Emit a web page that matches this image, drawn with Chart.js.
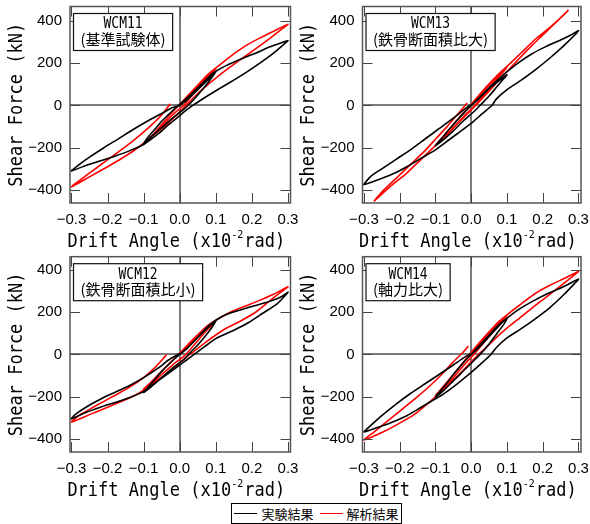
<!DOCTYPE html>
<html><head><meta charset="utf-8">
<script src="https://cdn.jsdelivr.net/npm/chart.js@4.4.0/dist/chart.umd.min.js"></script>
<style>
html,body{margin:0;padding:0;background:#fff;}
#wrap{position:relative;width:590px;height:524px;overflow:hidden;background:#fff;}
#wrap canvas{position:absolute;left:0;top:0;}
#legend{position:absolute;left:231px;top:503px;width:169px;height:19px;border:1px solid #000;background:#fff;display:flex;align-items:center;justify-content:center;font-family:"Noto Sans CJK JP";font-size:13px;color:#000;white-space:nowrap;}
.ln{display:inline-block;width:23px;height:1.5px;margin:0 4px 0 0;vertical-align:middle;}
.lnk{background:#000;}
.lnr{background:#ff0000;margin-left:6px;}
</style></head><body>
<div id="wrap">
<canvas id="c0" width="590" height="524"></canvas>
<canvas id="c1" width="590" height="524"></canvas>
<canvas id="c2" width="590" height="524"></canvas>
<canvas id="c3" width="590" height="524"></canvas>
<div id="legend"><span class="ln lnk"></span><span id="lg0"></span><span class="ln lnr"></span><span id="lg1"></span></div>
</div>
<script>
// ---------------- data ----------------
const specimenNames = ['WCM11', 'WCM13', 'WCM12', 'WCM14'];
const specimenNotes = ['(基準試験体)', '(鉄骨断面積比大)', '(鉄骨断面積比小)', '(軸力比大)'];
const seriesNames = ['実験結果', '解析結果'];
const xTickValues = [-0.3, -0.2, -0.1, 0, 0.1, 0.2, 0.3];
const yTickValues = [-400, -200, 0, 200, 400];
const xAxisTitle = ['Drift Angle (x10', '-2', 'rad)'];
const yAxisTitle = 'Shear Force (kN)';

// WCM11
const wcm11ExpDrift = [0,0.02,0.05,0.08,0.1, 0.09,0.07,0.05,0.03,0.01,-0.02,-0.05,-0.08,-0.1, -0.09,-0.07,-0.05,-0.02,0,0.03,0.06,0.08,0.1, 0.13,0.17,0.21,0.25,0.28,0.3, 0.29,0.26,0.22,0.18,0.14,0.1,0.07,0.04,0.02,0,-0.03,-0.06,-0.1, -0.14,-0.18,-0.22,-0.26,-0.3, -0.28,-0.25,-0.21,-0.17,-0.13,-0.09,-0.05,-0.02,0];
const wcm11ExpShear = [0,25,75,125,160, 135,90,50,12,-20,-60,-105,-150,-182, -155,-115,-75,-25,5,50,100,135,162, 190,220,248,278,296,308, 292,248,198,152,110,70,38,5,-20,-48,-90,-135,-185, -215,-240,-262,-284,-310, -282,-245,-200,-158,-115,-75,-38,-10,0];
const wcm11AnaDrift = [0,0.02,0.05,0.08,0.1, 0.09,0.07,0.05,0.03,0.01,-0.02,-0.05,-0.08,-0.1, -0.09,-0.07,-0.05,-0.03,0,0.03,0.06,0.08,0.1, 0.14,0.18,0.22,0.26,0.3, 0.28,0.25,0.21,0.17,0.13,0.1,0.07,0.04,0.02,0,-0.04,-0.08,-0.12,-0.16,-0.2,-0.25,-0.3, -0.27,-0.23,-0.19,-0.15,-0.11,-0.08,-0.05,-0.026];
const wcm11AnaShear = [0,35,92,145,175, 155,118,80,40,0,-45,-100,-150,-183, -165,-130,-90,-50,5,60,115,150,178, 232,280,318,352,385, 358,318,268,220,170,130,88,40,5,-30,-95,-150,-205,-250,-290,-338,-385, -345,-295,-245,-195,-140,-95,-45,8];

// WCM13
const wcm13ExpDrift = [0,0.02,0.05,0.08,0.1, 0.09,0.07,0.05,0.03,0.01,-0.02,-0.05,-0.08,-0.1, -0.09,-0.07,-0.05,-0.02,0,0.03,0.06,0.08,0.1, 0.13,0.17,0.21,0.25,0.28,0.3, 0.29,0.26,0.22,0.18,0.14,0.1,0.07,0.058,0.03,0,-0.04,-0.08,-0.1, -0.14,-0.18,-0.22,-0.26,-0.3, -0.28,-0.25,-0.21,-0.17,-0.13,-0.09,-0.05,-0.02,0];
const wcm13ExpShear = [0,30,80,120,145, 125,85,45,10,-25,-70,-120,-165,-190, -170,-130,-90,-35,0,50,100,130,160, 200,245,280,310,335,355, 335,285,225,170,120,75,30,0,-40,-85,-135,-185,-210, -250,-290,-325,-352,-375, -335,-300,-255,-210,-160,-110,-60,-20,5];
const wcm13AnaDrift = [0,0.02,0.05,0.08,0.1, 0.09,0.07,0.05,0.03,0.01,-0.02,-0.05,-0.08,-0.1, -0.09,-0.07,-0.05,-0.03,0,0.03,0.06,0.08,0.1, 0.14,0.18,0.22,0.25,0.272, 0.25,0.21,0.17,0.13,0.1,0.07,0.04,0.01,-0.02,-0.06,-0.1,-0.14,-0.18,-0.22,-0.25,-0.271, -0.25,-0.21,-0.17,-0.13,-0.1,-0.07,-0.04,-0.011];
const wcm13AnaShear = [0,40,95,150,182, 160,120,80,40,0,-50,-105,-160,-190, -170,-130,-90,-50,5,65,120,155,185, 250,315,370,415,452, 415,350,285,215,160,105,50,-5,-55,-125,-190,-255,-320,-375,-420,-452, -410,-345,-280,-215,-160,-105,-45,12];

// WCM12
const wcm12ExpDrift = [0,0.02,0.05,0.08,0.1, 0.09,0.07,0.05,0.03,0.01,-0.02,-0.05,-0.08,-0.1, -0.09,-0.07,-0.05,-0.02,0,0.03,0.06,0.08,0.1, 0.13,0.17,0.21,0.25,0.28,0.3, 0.29,0.27,0.23,0.19,0.15,0.1,0.07,0.04,0.02,0,-0.04,-0.08,-0.1, -0.14,-0.18,-0.22,-0.26,-0.3, -0.29,-0.26,-0.22,-0.18,-0.14,-0.1,-0.06,-0.03,0];
const wcm12ExpShear = [0,28,80,130,160, 130,85,45,10,-25,-65,-110,-155,-180, -160,-120,-80,-30,0,45,100,135,162, 190,212,232,252,272,295, 275,240,195,150,115,75,38,0,-25,-50,-100,-150,-175, -205,-228,-250,-275,-305, -285,-250,-212,-180,-148,-110,-65,-25,5];
const wcm12AnaDrift = [0,0.02,0.05,0.08,0.1, 0.09,0.07,0.05,0.03,0.01,-0.02,-0.05,-0.08,-0.1, -0.09,-0.07,-0.05,-0.03,0,0.03,0.06,0.08,0.1, 0.14,0.18,0.22,0.26,0.3, 0.28,0.25,0.21,0.17,0.13,0.1,0.07,0.04,0.02,0,-0.04,-0.08,-0.12,-0.16,-0.2,-0.25,-0.3, -0.28,-0.25,-0.21,-0.17,-0.13,-0.1,-0.07,-0.037];
const wcm12AnaShear = [0,35,90,135,160, 140,105,65,25,-10,-50,-95,-140,-163, -148,-115,-80,-45,5,60,110,140,162, 200,228,255,285,320, 295,255,200,160,125,92,55,15,-10,-40,-95,-145,-190,-222,-250,-285,-320, -290,-260,-222,-185,-145,-110,-65,-2];

// WCM14
const wcm14ExpDrift = [0,0.02,0.05,0.08,0.1, 0.09,0.07,0.05,0.03,0.01,-0.02,-0.05,-0.08,-0.1, -0.09,-0.07,-0.05,-0.02,0,0.03,0.06,0.08,0.1, 0.13,0.17,0.21,0.25,0.28,0.3, 0.29,0.26,0.22,0.18,0.14,0.1,0.07,0.055,0.03,0,-0.04,-0.08,-0.1, -0.14,-0.18,-0.22,-0.26,-0.3, -0.28,-0.25,-0.21,-0.17,-0.13,-0.09,-0.05,-0.02,0];
const wcm14ExpShear = [0,30,85,140,170, 140,95,50,10,-25,-75,-125,-175,-200, -180,-140,-95,-35,0,55,110,145,172, 210,250,285,315,340,357, 338,285,222,170,122,78,32,0,-40,-85,-140,-190,-210, -250,-290,-320,-345,-367, -335,-290,-235,-185,-140,-95,-50,-15,5];
const wcm14AnaDrift = [0,0.02,0.05,0.08,0.1, 0.09,0.07,0.05,0.03,0.01,-0.02,-0.05,-0.08,-0.1, -0.09,-0.07,-0.05,-0.03,0,0.03,0.06,0.08,0.1, 0.14,0.18,0.22,0.26,0.3, 0.28,0.25,0.21,0.17,0.13,0.1,0.07,0.04,0.02,0,-0.04,-0.08,-0.12,-0.16,-0.2,-0.25,-0.3, -0.27,-0.23,-0.19,-0.15,-0.11,-0.08,-0.05,-0.02,-0.008];
const wcm14AnaShear = [0,42,100,155,185, 165,125,85,45,5,-50,-110,-165,-195, -175,-135,-95,-55,10,70,125,160,188, 240,290,328,360,393, 365,325,272,220,165,125,80,30,0,-35,-105,-170,-230,-285,-325,-370,-405, -365,-310,-255,-200,-140,-90,-35,15,40];

const expDrift = [wcm11ExpDrift, wcm13ExpDrift, wcm12ExpDrift, wcm14ExpDrift];
const expShear = [wcm11ExpShear, wcm13ExpShear, wcm12ExpShear, wcm14ExpShear];
const anaDrift = [wcm11AnaDrift, wcm13AnaDrift, wcm12AnaDrift, wcm14AnaDrift];
const anaShear = [wcm11AnaShear, wcm13AnaShear, wcm12AnaShear, wcm14AnaShear];

// ---------------- layout (plot areas in page pixels) ----------------
const areas = [
  {l: 70, r: 290.5, t: 6.5, b: 203, ymin: -462, ymax: 469},
  {l: 362.5, r: 581, t: 6.5, b: 203, ymin: -462, ymax: 469},
  {l: 70, r: 290.5, t: 256.7, b: 452, ymin: -462, ymax: 463},
  {l: 362.5, r: 581, t: 256.7, b: 452, ymin: -462, ymax: 463}
];
const W = 590, H = 524, Y_AXIS_W = 50, X_AXIS_H = 22;
const X_MIN = -0.304, X_MAX = 0.307;

function fmtNum(v, d) {
  const s = Math.abs(v).toFixed(d);
  return (v < 0 ? '\u2212' : '') + s;
}

const decor = {
  id: 'decor',
  afterDatasetsDraw(chart, args, opts) {
    const {ctx, chartArea: a} = chart;
    const x = chart.scales.x, y = chart.scales.y;
    ctx.save();
    ctx.strokeStyle = '#444';
    ctx.lineWidth = 1;
    ctx.beginPath();
    for (const v of xTickValues) {
      const px = Math.round(x.getPixelForValue(v)) + 0.5;
      ctx.moveTo(px, a.bottom); ctx.lineTo(px, a.bottom - 10);
      ctx.moveTo(px, a.top); ctx.lineTo(px, a.top + 10);
    }
    for (const v of yTickValues) {
      const py = Math.round(y.getPixelForValue(v)) + 0.5;
      ctx.moveTo(a.left, py); ctx.lineTo(a.left + 10, py);
      ctx.moveTo(a.right, py); ctx.lineTo(a.right - 10, py);
    }
    ctx.stroke();
    ctx.strokeStyle = '#555';
    ctx.lineWidth = 1.5;
    ctx.strokeRect(a.left, a.top, a.right - a.left, a.bottom - a.top);
    const f1 = '13px "DejaVu Sans Mono"';
    const f2 = '15px "Noto Sans CJK JP"';
    ctx.font = f1; const w1 = ctx.measureText(opts.name).width;
    ctx.font = f2; const w2 = ctx.measureText(opts.note).width;
    const bw = Math.max(w1, w2) + 14, bh = 37;
    const bx = a.left + 3.5, by = a.top + 7;
    ctx.fillStyle = '#fff';
    ctx.fillRect(bx, by, bw, bh);
    ctx.strokeStyle = '#111';
    ctx.lineWidth = 1.2;
    ctx.strokeRect(bx, by, bw, bh);
    ctx.fillStyle = '#000';
    ctx.textAlign = 'center';
    ctx.textBaseline = 'middle';
    ctx.font = f1;
    ctx.save();
    ctx.translate(bx + bw / 2, by + 11);
    ctx.scale(1, 1.15);
    ctx.fillText(opts.name, 0, 0);
    ctx.restore();
    ctx.font = f2;
    ctx.fillText(opts.note, bx + bw / 2, by + 26);
    ctx.restore();
  },
  afterDraw(chart) {
    const {ctx, chartArea: a} = chart;
    ctx.save();
    ctx.fillStyle = '#000';
    ctx.textBaseline = 'middle';
    const main = '17px "DejaVu Sans Mono"', sup = '10px "DejaVu Sans Mono"';
    ctx.save();
    ctx.translate(a.left - 53, (a.top + a.bottom) / 2);
    ctx.rotate(-Math.PI / 2);
    ctx.scale(1, 1.12);
    ctx.font = main;
    ctx.textAlign = 'center';
    ctx.fillText(yAxisTitle, 0, 0);
    ctx.restore();
    ctx.font = main; const wa = ctx.measureText(xAxisTitle[0]).width;
    const wc = ctx.measureText(xAxisTitle[2]).width;
    ctx.font = sup; const wb = ctx.measureText(xAxisTitle[1]).width;
    const total = wa + wb + wc + 1;
    const cx = (a.left + a.right) / 2 - 4, cy = a.bottom + 39.5;
    const sx = cx - total / 2;
    ctx.textAlign = 'left';
    ctx.save(); ctx.translate(sx, cy); ctx.scale(1, 1.12);
    ctx.font = main; ctx.fillText(xAxisTitle[0], 0, 0);
    ctx.font = sup; ctx.fillText(xAxisTitle[1], wa, -7);
    ctx.font = main; ctx.fillText(xAxisTitle[2], wa + wb + 1, 0);
    ctx.restore();
    ctx.restore();
  }
};

Chart.defaults.font.family = '"Liberation Sans", Arial, sans-serif';
Chart.defaults.color = '#000';

for (let i = 0; i < 4; i++) {
  const A = areas[i];
  const zeroGrid = (c) => (c.tick && Math.abs(c.tick.value) < 1e-9) ? '#7a7a7a' : 'rgba(0,0,0,0)';
  new Chart(document.getElementById('c' + i), {
    type: 'scatter',
    data: {
      datasets: [
        {label: seriesNames[0], data: expDrift[i].map((v, k) => ({x: v, y: expShear[i][k]})),
         showLine: true, borderColor: '#000', borderWidth: 1.6, pointRadius: 0, tension: 0.2, fill: false},
        {label: seriesNames[1], data: anaDrift[i].map((v, k) => ({x: v, y: anaShear[i][k]})),
         showLine: true, borderColor: '#ff0000', borderWidth: 1.6, pointRadius: 0, tension: 0.2, fill: false}
      ]
    },
    options: {
      responsive: false, animation: false, devicePixelRatio: 1,
      events: [],
      layout: {padding: {left: A.l - Y_AXIS_W, right: W - A.r, top: A.t, bottom: H - A.b - X_AXIS_H}},
      plugins: {legend: {display: false}, tooltip: {enabled: false},
        decor: {name: specimenNames[i], note: specimenNotes[i]}},
      scales: {
        x: {
          type: 'linear', min: X_MIN, max: X_MAX,
          afterBuildTicks: (s) => { s.ticks = xTickValues.map(v => ({value: v})); },
          afterFit: (s) => { s.height = X_AXIS_H; s.paddingLeft = 0; s.paddingRight = 0; },
          grid: {color: zeroGrid, lineWidth: 2, drawTicks: false},
          border: {display: false},
          ticks: {autoSkip: false, maxRotation: 0, minRotation: 0, padding: 7.5,
            font: {size: 15}, color: '#000', callback: (v) => fmtNum(v, 1)}
        },
        y: {
          type: 'linear', min: A.ymin, max: A.ymax,
          afterBuildTicks: (s) => { s.ticks = yTickValues.map(v => ({value: v})); },
          afterFit: (s) => { s.width = Y_AXIS_W; s.paddingTop = 0; s.paddingBottom = 0; },
          grid: {color: zeroGrid, lineWidth: 2, drawTicks: false},
          border: {display: false},
          ticks: {autoSkip: false, padding: 8, font: {size: 15}, color: '#000',
            callback: (v) => fmtNum(v, 0)}
        }
      }
    },
    plugins: [decor]
  });
}
document.getElementById('lg0').textContent = seriesNames[0];
document.getElementById('lg1').textContent = seriesNames[1];
</script>
</body></html>
